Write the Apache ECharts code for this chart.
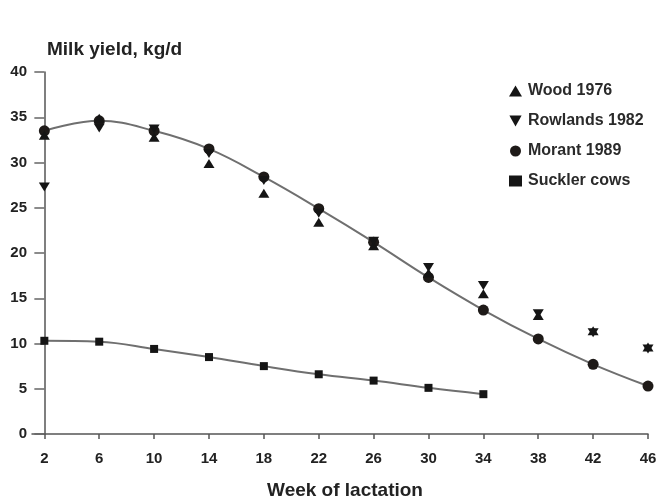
<!DOCTYPE html>
<html>
<head>
<meta charset="utf-8">
<script src="https://cdn.jsdelivr.net/npm/echarts@6/dist/echarts.min.js"></script>
<style>
  html, body { margin: 0; padding: 0; background: #fff; }
  #chart { width: 657px; height: 498px; }
</style>
</head>
<body>
<div id="chart"></div>
<script>
// Week of lactation (x) and milk yield in kg/d (y)
const weeks = [2, 6, 10, 14, 18, 22, 26, 30, 34, 38, 42, 46];
const weekTicks = [2, 6, 10, 14, 18, 22, 26, 30, 34, 38, 42, 46];

const wood1976 = [33.0, 34.9, 32.8, 29.9, 26.6, 23.4, 20.8, 17.8, 15.5, 13.1, 11.4, 9.6];
const rowlands1982 = [27.3, 33.8, 33.7, 31.0, 28.0, 24.4, 21.3, 18.4, 16.4, 13.3, 11.2, 9.4];
const morant1989 = [33.5, 34.6, 33.5, 31.5, 28.4, 24.9, 21.2, 17.3, 13.7, 10.5, 7.7, 5.3];

const sucklerWeeks = [2, 6, 10, 14, 18, 22, 26, 30, 34];
const sucklerCows = [10.3, 10.2, 9.4, 8.5, 7.5, 6.6, 5.9, 5.1, 4.4];

const pair = (xs, ys) => xs.map((x, i) => [x, ys[i]]);

const ink = '#151515';
const lineGrey = '#6f6f6f';
const textCol = '#222';
const font = '"Liberation Sans", Arial, Helvetica, sans-serif';
const downTriangle = 'path://M0,0 L10,0 L5,9 Z';

const chart = echarts.init(document.getElementById('chart'), null, { renderer: 'canvas' });

chart.setOption({
  animation: false,
  backgroundColor: '#fff',
  textStyle: { fontFamily: font },
  title: {
    text: 'Milk yield, kg/d',
    left: 42,
    top: 35,
    textStyle: { fontFamily: font, fontSize: 19, fontWeight: 'bold', color: textCol }
  },
  legend: {
    orient: 'vertical',
    left: 504,
    top: 78,
    itemWidth: 13,
    itemHeight: 11,
    itemGap: 14,
    textStyle: { fontFamily: font, fontSize: 16, fontWeight: 'bold', color: '#2a2a2a', padding: [0, 0, 0, 1] },
    data: [
      { name: 'Wood 1976', icon: 'triangle' },
      { name: 'Rowlands 1982', icon: downTriangle },
      { name: 'Morant 1989', icon: 'circle' },
      { name: 'Suckler cows', icon: 'rect' }
    ]
  },
  grid: { left: 32, right: 9, top: 72, bottom: 64, containLabel: false, outerBoundsMode: 'none' },
  xAxis: [
    {
      type: 'value',
      min: 1.1,
      max: 46,
      name: 'Week of lactation',
      nameLocation: 'middle',
      nameGap: 47,
      nameTextStyle: { fontFamily: font, fontSize: 19, fontWeight: 'bold', color: textCol, padding: [0, 0, 0, 10] },
      axisLine: { show: true, onZero: false, lineStyle: { color: '#555', width: 1.5 } },
      axisTick: { show: true, customValues: weekTicks, length: 5, inside: false, lineStyle: { color: '#555', width: 1.5 } },
      axisLabel: { customValues: weekTicks, margin: 17, fontFamily: font, fontSize: 15, fontWeight: 'bold', color: textCol },
      splitLine: { show: false }
    },
    {
      // shifted copy of the week scale so the y axis crosses at week 2
      type: 'value',
      min: 1.1 - 2,
      max: 46 - 2,
      show: false
    }
  ],
  yAxis: {
    type: 'value',
    min: 0,
    max: 40,
    interval: 5,
    axisLine: { show: true, onZero: true, onZeroAxisIndex: 1, lineStyle: { color: '#555', width: 1.5 } },
    axisTick: { show: true, length: 10, lineStyle: { color: '#666', width: 1.5 } },
    axisLabel: { margin: 5, fontFamily: font, fontSize: 15, fontWeight: 'bold', color: textCol },
    splitLine: { show: false }
  },
  series: [
    {
      name: 'Morant 1989',
      type: 'line',
      smooth: 0.4,
      data: pair(weeks, morant1989),
      symbol: 'circle',
      symbolSize: 11,
      itemStyle: { color: '#1e1a18', opacity: 1 },
      lineStyle: { color: lineGrey, width: 2 },
      z: 3
    },
    {
      name: 'Suckler cows',
      type: 'line',
      smooth: 0.4,
      data: pair(sucklerWeeks, sucklerCows),
      symbol: 'rect',
      symbolSize: 8,
      itemStyle: { color: ink, opacity: 1 },
      lineStyle: { color: lineGrey, width: 2 },
      z: 3
    },
    {
      name: 'Wood 1976',
      type: 'scatter',
      data: pair(weeks, wood1976),
      symbol: 'triangle',
      symbolSize: [11, 9],
      itemStyle: { color: ink, opacity: 1 },
      z: 4
    },
    {
      name: 'Rowlands 1982',
      type: 'scatter',
      data: pair(weeks, rowlands1982),
      symbol: downTriangle,
      symbolSize: [11, 9],
      itemStyle: { color: ink, opacity: 1 },
      z: 4
    }
  ]
});
</script>
</body>
</html>
